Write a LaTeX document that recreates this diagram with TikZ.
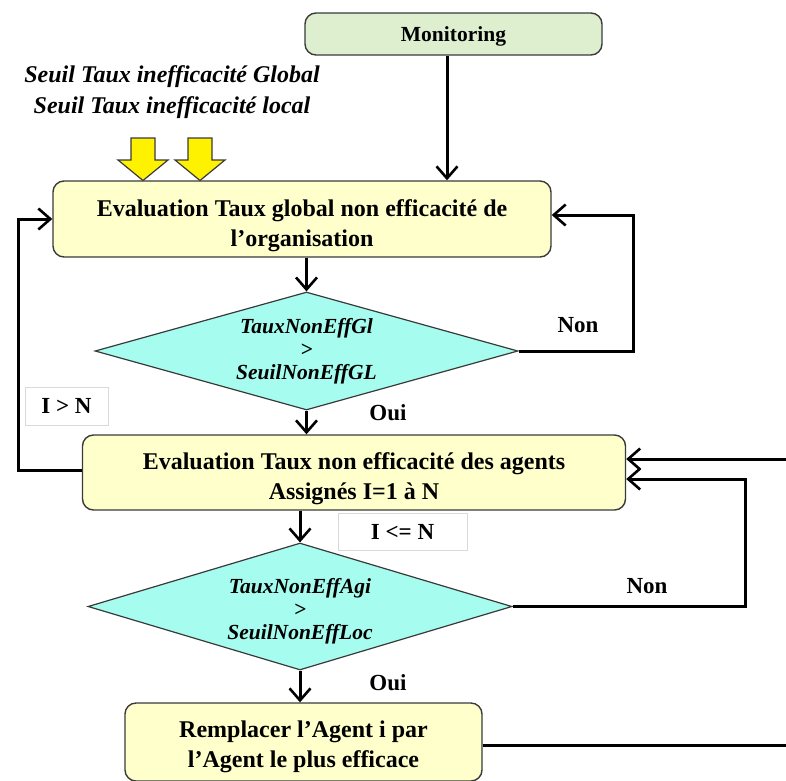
\documentclass[tikz,border=0pt]{standalone}
\usepackage{fontspec}
\setmainfont{Liberation Serif}
\usetikzlibrary{arrows.meta,shapes.geometric}
\definecolor{boxgreen}{HTML}{DDEFCF}
\definecolor{boxyellow}{HTML}{FFFFCC}
\definecolor{decision}{HTML}{A6FCEE}
\definecolor{edgegray}{HTML}{3A3A3A}
\tikzset{
  procbox/.style={draw=edgegray, line width=1.4pt, rounded corners=11pt,
    fill=boxyellow, inner sep=0pt},
  boxtxt/.style={align=center, inner sep=0pt, font=\bfseries\fontsize{24}{30}\selectfont},
  decbox/.style={draw=edgegray, line width=1.2pt, shape=diamond, aspect=3.6,
    fill=decision, inner sep=0pt},
  dectxt/.style={align=center, inner sep=0pt,
    font=\bfseries\itshape\fontsize{21.5}{23}\selectfont},
  flow/.style={line width=3pt, -{Straight Barb[length=12pt,width=21pt,line width=2.6pt]}},
  lbl/.style={font=\bfseries\fontsize{23}{26}\selectfont, inner sep=0pt},
  tagbox/.style={draw=black!15, line width=0.8pt, font=\bfseries\fontsize{23}{26}\selectfont},
  bigarrow/.style={draw=edgegray, line width=1.2pt, fill=yellow, line join=miter},
}
\begin{document}
\begin{tikzpicture}[x=1pt,y=-1pt]
\useasboundingbox (0,0) rectangle (786,780);
\clip (0,0) rectangle (786,780);

% process boxes
\node[procbox, fill=boxgreen, minimum width=297pt, minimum height=42pt] (mon) at (453.5,34) {};
\node[boxtxt, font=\bfseries\fontsize{21.5}{24}\selectfont] (mon-t)
  at ([yshift=-2.5pt]mon.center) {Monitoring};
\node[procbox, minimum width=498pt, minimum height=76pt] (evalg) at (302,219) {};
\node[boxtxt] (evalg-t) at ([yshift=-7pt]evalg.center)
  {Evaluation Taux global non efficacité de\\l’organisation};
\node[procbox, minimum width=543pt, minimum height=75pt] (evala) at (354,472.5) {};
\node[boxtxt] (evala-t) at ([yshift=-6pt]evala.center)
  {Evaluation Taux non efficacité des agents\\Assignés I=1 à N};
\node[procbox, minimum width=357pt, minimum height=78pt] (repl) at (303.5,742) {};
\node[boxtxt] (repl-t) at ([yshift=-5pt]repl.center)
  {Remplacer l’Agent i par\\l’Agent le plus efficace};

% decisions
\node[decbox, minimum width=423pt, minimum height=118pt] (dg) at (306.5,351) {};
\node[dectxt] (dg-t) at (dg.center) {TauxNonEffGl\\>\\SeuilNonEffGL};
\node[decbox, minimum width=424pt, minimum height=127pt] (da) at (300,606.5) {};
\node[dectxt] (da-t) at ([yshift=-4.5pt]da.center) {TauxNonEffAgi\\>\\SeuilNonEffLoc};

% threshold inputs
\node[font=\bfseries\itshape\fontsize{24}{31}\selectfont, align=center] (seuil)
  at (172,92) {Seuil Taux inefficacité Global\\Seuil Taux inefficacité local};
\foreach \cx in {143,200}
  \draw[bigarrow] (\cx-12,138) -- (\cx+12,138) -- (\cx+12,160) -- (\cx+25,160)
    -- (\cx,180.5) -- (\cx-25,160) -- (\cx-12,160) -- cycle;

% condition tags
\node[tagbox, minimum width=83pt, minimum height=38pt] (tgt) at (66.5,406) {I > N};
\node[tagbox, minimum width=129pt, minimum height=37pt] (tle) at (402.5,531.5) {I <= N};

% labels
\node[lbl] (nong) at (578,325) {Non};
\node[lbl] (ouig) at (388,413) {Oui};
\node[lbl] (nona) at (647,586) {Non};
\node[lbl] (ouia) at (388,683) {Oui};

% turning points
\coordinate (rg) at (633,215);
\coordinate (lg) at (18,219);
\coordinate (ra) at (745,479);
\coordinate (far) at (800,459);

% connectors
\draw[flow] (mon.south -| 447,0) -- (evalg.north -| 447,0);
\draw[flow] (evalg.south -| dg.north) -- (dg.north);
\draw[flow] (dg.south) -- (evala.north -| dg.south);
\draw[flow] (evala.south -| da.north) -- (da.north);
\draw[flow] (da.south) -- (repl.north -| da.south);
\draw[flow] (dg.east) -| (rg) -- (evalg.east |- rg);
\draw[flow] (evala.west |- 0,470) -| (lg) -- (evalg.west |- lg);
\draw[flow] (da.east) -| (ra) -- (evala.east |- ra);
\draw[flow] (repl.east |- 0,745) -| (far) -- (evala.east |- far);
\end{tikzpicture}
\end{document}
